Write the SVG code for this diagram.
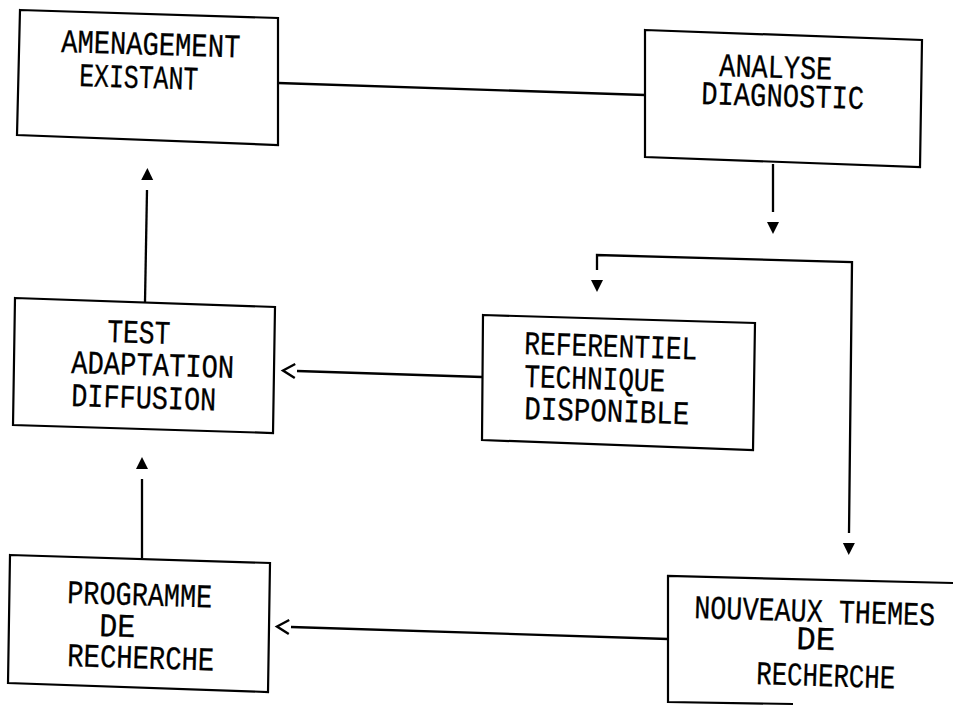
<svg xmlns="http://www.w3.org/2000/svg" width="953" height="707" viewBox="0 0 953 707">
<style>
.box{fill:none;stroke:#000;stroke-width:2.2;stroke-linejoin:miter}
.ln{fill:none;stroke:#000;stroke-width:2.3}
.t{font-family:"Liberation Mono","DejaVu Sans Mono",monospace;font-size:33px;fill:#000;stroke:#000;stroke-width:0.3}
</style>
<defs>
<marker id="tri" markerUnits="userSpaceOnUse" viewBox="0 0 24 12" refX="0" refY="6" markerWidth="24" markerHeight="12" orient="auto-start-reverse" overflow="visible">
<path d="M10,0 L22,6 L10,12 Z" fill="#000"/>
</marker>
<marker id="chev" markerUnits="userSpaceOnUse" viewBox="0 0 16 16" refX="0" refY="8" markerWidth="16" markerHeight="16" orient="auto" overflow="visible">
<path d="M2,1 L14,8 L2,15" fill="none" stroke="#000" stroke-width="2.4"/>
</marker>
</defs>
<rect width="953" height="707" fill="#fff"/>
<g id="connectors">
<path class="ln" d="M278,83 L645,95"/>
<path class="ln" d="M773,164 L773,212" marker-end="url(#tri)"/>
<path class="ln" d="M597,270 L597,255 L852,262 L849,533" marker-start="url(#tri)" marker-end="url(#tri)"/>
<path class="ln" d="M482,377 L297,371" marker-end="url(#chev)"/>
<path class="ln" d="M145,302 L147,190" marker-end="url(#tri)"/>
<path class="ln" d="M142,558 L142,479" marker-end="url(#tri)"/>
<path class="ln" d="M668,639 L291,627" marker-end="url(#chev)"/>
</g>
<g id="amenagement">
<polygon class="box" points="20,10 278,18 278,145 17,135"/>
<text class="t" x="61" y="52" textLength="179" lengthAdjust="spacingAndGlyphs" transform="rotate(1.8 61 52)">AMENAGEMENT</text>
<text class="t" x="79" y="86" textLength="119" lengthAdjust="spacingAndGlyphs" transform="rotate(1.8 79 86)">EXISTANT</text>
</g>
<g id="analyse">
<polygon class="box" points="645,30 922,40 920,167 645,157"/>
<text class="t" x="719" y="76" textLength="113" lengthAdjust="spacingAndGlyphs" transform="rotate(1.8 719 76)">ANALYSE</text>
<text class="t" x="701" y="104" textLength="163" lengthAdjust="spacingAndGlyphs" transform="rotate(1.8 701 104)">DIAGNOSTIC</text>
</g>
<g id="test">
<polygon class="box" points="15,298 275,307 273,433 13,425"/>
<text class="t" x="107" y="342" textLength="63" lengthAdjust="spacingAndGlyphs" transform="rotate(1.8 107 342)">TEST</text>
<text class="t" x="71" y="373" textLength="163" lengthAdjust="spacingAndGlyphs" transform="rotate(1.8 71 373)">ADAPTATION</text>
<text class="t" x="71" y="406" textLength="145" lengthAdjust="spacingAndGlyphs" transform="rotate(1.8 71 406)">DIFFUSION</text>
</g>
<g id="referentiel">
<polygon class="box" points="483,315 755,323 753,450 482,440"/>
<text class="t" x="524" y="354" textLength="173" lengthAdjust="spacingAndGlyphs" transform="rotate(1.8 524 354)">REFERENTIEL</text>
<text class="t" x="524" y="387" textLength="141" lengthAdjust="spacingAndGlyphs" transform="rotate(1.8 524 387)">TECHNIQUE</text>
<text class="t" x="524" y="419" textLength="165" lengthAdjust="spacingAndGlyphs" transform="rotate(1.8 524 419)">DISPONIBLE</text>
</g>
<g id="programme">
<polygon class="box" points="10,555 270,563 268,692 8,683"/>
<text class="t" x="67" y="603" textLength="145" lengthAdjust="spacingAndGlyphs" transform="rotate(1.8 67 603)">PROGRAMME</text>
<text class="t" x="99" y="636" textLength="36" lengthAdjust="spacingAndGlyphs" transform="rotate(1.8 99 636)">DE</text>
<text class="t" x="67" y="666" textLength="147" lengthAdjust="spacingAndGlyphs" transform="rotate(1.8 67 666)">RECHERCHE</text>
</g>
<g id="nouveaux">
<path class="box" d="M953,583 L668,576 L668,702 L793,704"/>
<text class="t" x="694" y="618" textLength="241" lengthAdjust="spacingAndGlyphs" transform="rotate(1.8 694 618)">NOUVEAUX THEMES</text>
<text class="t" x="796" y="649" textLength="39" lengthAdjust="spacingAndGlyphs" transform="rotate(1.8 796 649)">DE</text>
<text class="t" x="756" y="684" textLength="139" lengthAdjust="spacingAndGlyphs" transform="rotate(1.8 756 684)">RECHERCHE</text>
</g>
</svg>
